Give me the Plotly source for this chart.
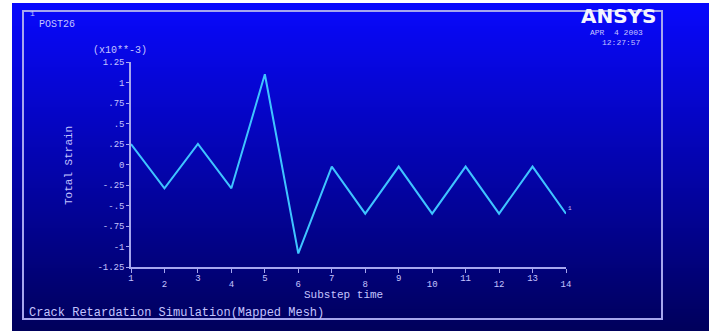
import plotly.graph_objects as go

# Substep time vs total strain (x10**-3)
substeps = list(range(1, 15))
total_strain = [0.25, -0.29, 0.25, -0.29, 1.10, -1.085, -0.025, -0.60,
                -0.025, -0.60, -0.025, -0.60, -0.025, -0.60]
y_ticks = [1.25, 1.0, 0.75, 0.5, 0.25, 0.0, -0.25, -0.5, -0.75, -1.0, -1.25]
y_tick_text = ["1.25", "1", ".75", ".5", ".25", "0", "-.25", "-.5", "-.75", "-1", "-1.25"]
odd_steps = [s for s in substeps if s % 2 == 1]
even_steps = [s for s in substeps if s % 2 == 0]

W, H = 715, 331


def px(x):
    return x / W


def py(y):
    return 1 - y / H


LINE = "#a6a6ee"
TXT = "#c4c4ff"
MONO = "Liberation Mono"

fig = go.Figure()

# window background: vertical blue ramp on its own (bottom-most) subplot
n_rows = 64
ramp = [[i / (n_rows - 1)] for i in range(n_rows)]
fig.add_trace(go.Heatmap(z=ramp, x=[0], y=list(range(n_rows)), xaxis="x", yaxis="y",
                         colorscale=[[0, "rgb(0,0,92)"], [1, "rgb(8,8,252)"]],
                         zsmooth="best", showscale=False, hoverinfo="skip"))

fig.add_trace(go.Scatter(x=substeps, y=total_strain, mode="lines", xaxis="x2", yaxis="y2",
                         line=dict(color="#3fc4ff", width=2),
                         hoverinfo="skip", showlegend=False))
# carrier trace for the staggered (even) tick row
fig.add_trace(go.Scatter(x=even_steps, y=[None] * len(even_steps), xaxis="x3", yaxis="y2",
                         mode="lines", showlegend=False, hoverinfo="skip"))

shapes = [dict(type="rect", xref="paper", yref="paper", layer="above",
               x0=px(23), x1=px(662), y0=py(319), y1=py(11),
               line=dict(color=LINE, width=2), fillcolor="rgba(0,0,0,0)")]

annotations = [
    dict(text="1", x=px(32), y=py(14), font=dict(size=8)),
    dict(text="POST26", x=px(57), y=py(24), font=dict(size=10)),
    dict(text="(x10**-3)", x=px(120), y=py(51), font=dict(size=10)),
    dict(text="<b>ANSYS</b>", x=px(619), y=py(16),
         font=dict(size=20, family="DejaVu Sans", color="#f4f4ff")),
    dict(text="APR  4 2003", x=px(616), y=py(33), font=dict(size=8)),
    dict(text="12:27:57", x=px(621), y=py(42), font=dict(size=8)),
    dict(text="Total Strain", x=px(69), y=py(166), textangle=-90, font=dict(size=11)),
    dict(text="Substep time", x=px(343), y=py(295), font=dict(size=11)),
    dict(text="Crack Retardation Simulation(Mapped Mesh)", x=px(176), y=py(313),
         font=dict(size=12)),
    dict(text="1", x=px(570), y=py(208), font=dict(size=6)),
]
for a in annotations:
    a.update(xref="paper", yref="paper", showarrow=False,
             xanchor="center", yanchor="middle")
    if "family" not in a["font"]:
        a["font"] = dict(family=MONO, color=TXT, **a["font"])

x_dom = [px(131), px(566)]
y_dom = [py(267), py(62)]

fig.update_layout(
    width=W, height=H,
    margin=dict(l=0, r=0, t=0, b=0, pad=0, autoexpand=False),
    paper_bgcolor="white",
    plot_bgcolor="rgba(0,0,0,0)",
    shapes=shapes,
    annotations=annotations,
    showlegend=False,
    xaxis=dict(domain=[px(12), px(709)], range=[-0.5, 0.5], visible=False, fixedrange=True),
    yaxis=dict(domain=[0, py(3)], range=[-0.5, n_rows - 0.5], visible=False, fixedrange=True),
    xaxis2=dict(domain=x_dom, anchor="y2", range=[1, 14], tickvals=substeps,
                ticktext=[str(s) if s % 2 == 1 else "" for s in substeps],
                showgrid=False, zeroline=False, showline=True, linecolor=LINE,
                linewidth=1.5, ticks="outside", ticklen=4, tickcolor=LINE,
                ticklabelstandoff=-3,
                tickfont=dict(family=MONO, size=9, color=TXT), fixedrange=True),
    xaxis3=dict(domain=x_dom, anchor="y2", overlaying="x2", side="bottom", range=[1, 14],
                tickvals=even_steps, ticktext=[str(s) for s in even_steps], showgrid=False,
                zeroline=False, showline=False, ticks="", ticklabelstandoff=10,
                tickfont=dict(family=MONO, size=9, color=TXT), fixedrange=True),
    yaxis2=dict(domain=y_dom, anchor="x2", range=[-1.25, 1.25], tickvals=y_ticks,
                ticktext=y_tick_text, showgrid=False, zeroline=False, showline=True,
                linecolor=LINE, linewidth=1.5, ticks="outside", ticklen=3, tickcolor=LINE,
                tickfont=dict(family=MONO, size=9, color=TXT), fixedrange=True),
)

fig.write_html("out.html")
